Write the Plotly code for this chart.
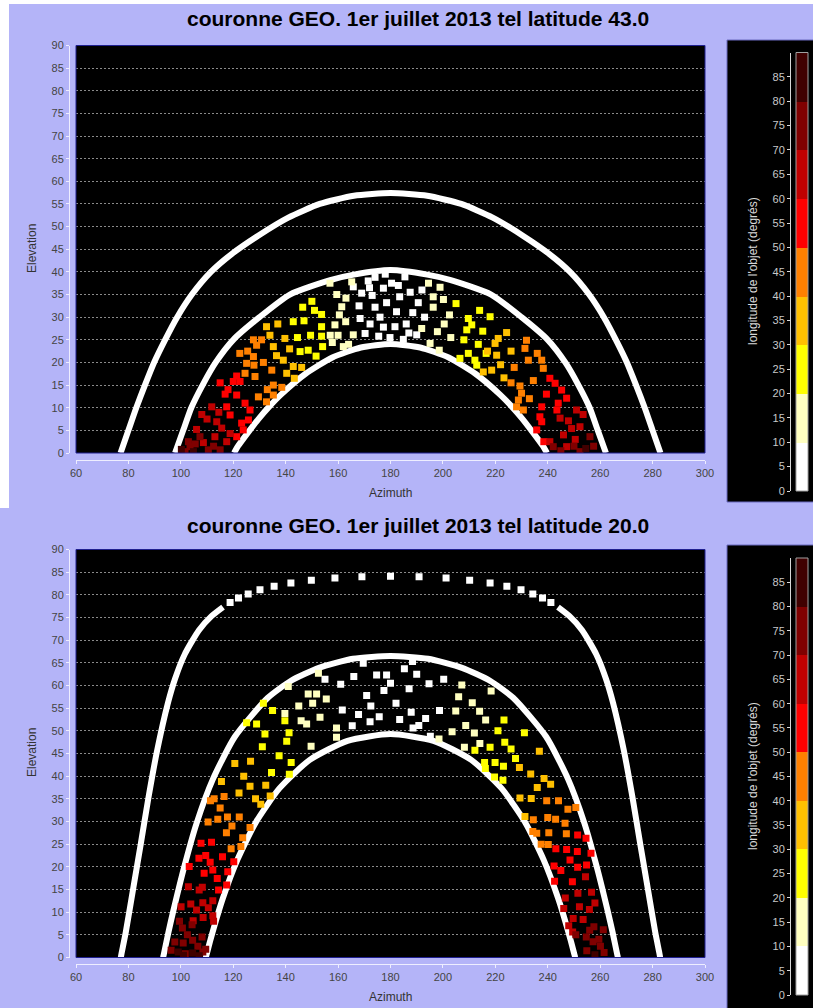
import plotly.graph_objects as go

W, H = 813, 1008
BG = '#b4b4f8'

# ---------------- data ----------------
az_ticks = list(range(60, 301, 20))
el_ticks = list(range(0, 91, 5))
lon_ticks = list(range(0, 86, 5))
lon_edges = [0, 10, 20, 30, 40, 50, 60, 70, 80, 90]
band_colors = ['#ffffff', '#ffffc0', '#ffff00', '#ffc000', '#ff8000',
               '#ff0000', '#c00000', '#800000', '#400000']

titles = ["couronne GEO. 1er juillet 2013 tel latitude 43.0",
          "couronne GEO. 1er juillet 2013 tel latitude 20.0"]

# --- latitude 43 : boundary curves (azimuth, elevation)
t_out_az = [77.0, 80.0, 83.0, 86.3, 89.8, 94.0, 98.6, 104.2, 111.5, 119.5, 129.5, 141.0, 153.0, 166.0,
            180.0, 194.0, 207.0, 219.0, 230.5, 240.5, 248.5, 255.8, 261.4, 266.0, 270.2, 273.7, 277.0,
            280.0, 283.0]
t_out_el = [0, 5, 10, 15, 20, 25, 30, 35, 40, 44, 48, 52, 55, 56.8,
            57.4, 56.8, 55, 52, 48, 44, 40, 35, 30, 25, 20, 15, 10,
            5, 0]
t_mid_az = [97.8, 100.9, 104.0, 108.3, 113.3, 120.0, 130.0, 141.6, 157.0, 166.0, 180.0,
            194.0, 203.0, 218.4, 230.0, 240.0, 246.7, 251.7, 256.0, 259.1, 262.2]
t_mid_el = [0, 5, 10, 15, 20, 25, 30, 35, 38.2, 39.4, 40.4,
            39.4, 38.2, 35, 30, 25, 20, 15, 10, 5, 0]
t_in_az = [120.3, 121.8, 125.6, 129.6, 133.8, 138.2, 147.6, 157.8, 168.7, 180.0,
           191.3, 202.2, 212.4, 221.8, 226.2, 230.4, 234.4, 238.2, 239.7]
t_in_el = [0, 1.5, 4.5, 7.5, 10.3, 12.9, 17.5, 21.1, 23.3, 24.1,
           23.3, 21.1, 17.5, 12.9, 10.3, 7.5, 4.5, 1.5, 0]

# --- latitude 20 : boundary curves
b_out_az = [77.1, 77.4, 79.0, 81.8, 84.7, 87.6, 90.9, 95.1, 97.8, 101.5, 106.9, 111.7, 116.1, None,
            243.9, 248.3, 253.1, 258.5, 262.2, 264.9, 269.1, 272.4, 275.3, 278.2, 281.0, 282.6, 282.9]
b_out_el = [0, 0.95, 5.6, 15.1, 25.0, 35.1, 45.5, 56.2, 61.5, 66.9, 72.2, 75.3, 77.3, None,
            77.3, 75.3, 72.2, 66.9, 61.5, 56.2, 45.5, 35.1, 25.0, 15.1, 5.6, 0.95, 0]
b_top_az = [118.8, 122.0, 125.7, 130.2, 135.6, 142.0, 149.8, 158.8, 169.1, 180.0,
            190.9, 201.2, 210.2, 218.0, 224.4, 229.8, 234.3, 238.0, 241.2]
b_top_el = [78.3, 79.3, 80.2, 81.1, 81.9, 82.6, 83.2, 83.7, 84.0, 84.1,
            84.0, 83.7, 83.2, 82.6, 81.9, 81.1, 80.2, 79.3, 78.3]
b_mid_az = [93.2, 93.5, 95.2, 97.1, 101.2, 106.0, 112.2, 120.6, 133.2, 141.9, 152.7, 165.7, 180.0,
            194.3, 207.3, 218.1, 226.8, 239.4, 247.8, 254.0, 258.8, 262.9, 264.8, 266.5, 266.8]
b_mid_el = [0, 0.7, 5.4, 10.2, 19.8, 29.6, 39.3, 48.7, 57.3, 61.0, 63.9, 65.9, 66.5,
            65.9, 63.9, 61.0, 57.3, 48.7, 39.3, 29.6, 19.8, 10.2, 5.4, 0.7, 0]
b_in_az = [109.5, 109.8, 111.4, 116.0, 121.6, 128.6, 137.6, 149.2, 163.6, 180.0,
           196.4, 210.8, 222.4, 231.4, 238.4, 244.0, 248.6, 250.2, 250.5]
b_in_el = [0, 0.6, 4.1, 13.0, 21.6, 29.8, 37.3, 43.6, 47.8, 49.3,
           47.8, 43.6, 37.3, 29.8, 21.6, 13.0, 4.1, 0.6, 0]

# --- objects, latitude 43 : (azimuth, elevation) grouped by longitude band
t_lon05 = [(174.1, 38.8), (180.4, 37.5), (185.5, 38.9), (177.3, 36.4), (169.0, 35.3), (178.5, 33.2),
           (174.1, 32.2), (182.3, 31.2), (190.6, 33.2), (168.4, 29.7), (172.2, 28.5), (177.3, 27.8),
           (181.7, 27.9), (170.3, 26.4), (190.0, 26.1), (165.8, 36.7), (179.8, 25.5), (184.9, 25.1),
           (187.5, 35.5), (193.0, 30.0), (186.0, 28.5), (175.5, 25.8), (171.5, 38.0), (183.5, 34.5),
           (188.5, 31.0), (173.0, 34.8), (176.0, 30.0), (183.0, 37.0), (192.0, 36.0), (168.0, 32.5),
           (187.0, 26.5), (172.0, 36.5), (178.0, 39.5)]
t_lon15 = [(161.4, 32.3), (163.0, 34.2), (158.8, 28.3), (162.9, 29.0), (157.8, 24.4), (162.0, 23.5),
           (156.9, 37.5), (198.9, 36.6), (200.2, 33.9), (196.3, 32.2), (191.9, 27.5), (197.9, 26.8),
           (195.1, 24.2), (198.6, 22.7), (165.8, 26.1), (165.2, 37.8), (196.3, 34.5), (159.5, 35.0),
           (202.5, 30.5), (160.0, 26.0), (160.5, 30.5), (157.0, 26.0), (200.5, 28.5), (203.0, 25.5),
           (194.5, 37.5), (164.0, 24.0)]
t_lon25 = [(146.5, 32.2), (142.9, 29.0), (147.0, 29.2), (153.7, 30.6), (153.7, 27.9), (153.7, 25.8),
           (145.5, 22.4), (148.6, 22.7), (151.6, 21.4), (154.1, 23.5), (209.7, 29.7), (211.0, 28.3),
           (209.1, 27.2), (215.2, 26.9), (218.0, 30.1), (209.7, 22.0), (212.2, 20.5), (212.9, 19.4),
           (206.5, 20.9), (150.0, 33.5), (205.0, 33.0), (213.5, 24.0), (149.5, 26.0), (144.5, 25.5),
           (151.0, 31.5), (214.0, 31.5), (208.0, 25.0), (216.5, 22.0)]
t_lon35 = [(139.7, 25.3), (135.3, 23.5), (139.1, 20.5), (142.9, 19.1), (146.1, 18.9), (140.4, 17.6),
           (143.3, 16.5), (132.7, 27.9), (221.1, 25.3), (219.9, 24.2), (220.5, 21.6), (218.6, 18.3),
           (223.3, 16.6), (215.4, 17.9), (224.3, 26.6), (137.0, 28.5), (217.0, 22.5), (136.5, 21.5),
           (141.5, 23.0), (222.0, 19.5), (226.0, 22.5), (134.0, 26.0)]
t_lon45 = [(130.8, 25.0), (128.9, 23.8), (127.7, 21.3), (127.9, 19.4), (128.3, 16.9), (125.1, 19.8),
           (124.5, 17.6), (135.3, 15.0), (138.5, 14.5), (129.6, 12.4), (132.7, 11.3), (135.3, 12.8),
           (134.7, 18.3), (127.7, 25.0), (231.9, 24.9), (231.3, 23.1), (232.6, 20.5), (237.7, 20.5),
           (238.3, 18.7), (227.2, 18.9), (229.4, 14.8), (230.0, 13.2), (228.8, 11.7), (230.7, 9.5),
           (228.1, 10.2), (122.5, 22.0), (234.5, 16.0), (125.5, 22.5), (131.5, 20.0), (133.0, 14.0),
           (236.0, 22.0), (233.0, 12.0), (226.0, 15.5)]
t_lon55 = [(121.3, 17.0), (122.6, 15.8), (120.0, 15.8), (116.9, 13.0), (121.3, 12.8), (118.8, 8.4),
           (123.2, 6.6), (125.8, 7.3), (126.4, 9.5), (123.8, 5.1), (121.3, 3.6), (117.5, 10.2),
           (240.8, 16.5), (242.8, 15.4), (245.3, 13.9), (247.2, 12.1), (237.7, 10.2), (237.0, 8.0),
           (237.7, 6.9), (235.8, 5.1), (115.0, 15.5), (243.5, 9.5), (118.0, 14.0), (124.5, 11.0),
           (239.5, 13.0), (244.0, 11.0), (238.5, 2.5)]
t_lon65 = [(111.8, 10.2), (113.7, 6.9), (106.0, 5.2), (108.6, 2.3), (118.8, 4.3), (117.5, 2.5),
           (113.0, 3.6), (115.6, 5.5), (244.7, 7.7), (247.9, 7.1), (249.1, 5.4), (252.3, 5.8),
           (247.2, 1.4), (240.8, 2.5), (250.5, 3.0), (110.0, 7.5), (253.5, 8.5), (108.0, 8.5),
           (114.5, 9.0), (251.0, 9.5), (246.0, 4.0)]
t_lon75 = [(102.9, 2.5), (103.5, 1.4), (101.6, 0.3), (110.5, 0.7), (115.0, 0.7), (107.3, 3.6),
           (242.1, 1.4), (252.3, 0.3), (256.1, 3.6), (245.0, 0.5), (112.5, 1.5), (105.5, 2.0),
           (250.0, 1.5), (257.5, 1.5)]
t_lon85 = [(104.8, 0.3), (100.2, 0.8), (254.5, 1.0)]

# --- objects, latitude 20
b_lon05 = [(155.0, 61.4), (161.0, 60.3), (174.7, 62.3), (178.5, 62.3), (170.9, 57.8), (177.5, 58.9),
           (161.6, 54.6), (167.8, 53.6), (175.7, 53.1), (172.2, 52.0), (165.4, 51.1), (169.6, 64.9),
           (182.1, 56.1), (185.3, 63.7), (187.1, 59.3), (187.9, 54.1), (188.6, 50.6), (194.7, 60.4),
           (193.4, 52.7), (200.3, 61.4), (198.7, 54.5), (188.4, 65.3), (195.2, 48.8), (190.8, 51.2),
           (180.0, 60.5), (183.5, 52.5), (172.5, 55.5), (166.0, 62.0), (190.0, 62.5)]
b_lon15 = [(152.5, 62.7), (148.6, 58.1), (151.8, 58.1), (150.3, 56.1), (153.1, 53.0), (148.0, 51.5),
           (159.4, 50.6), (141.0, 59.8), (159.4, 48.6), (145.9, 52.2), (149.7, 46.6), (139.7, 53.8),
           (207.2, 60.1), (204.9, 54.4), (203.5, 49.8), (211.2, 56.2), (208.7, 51.2), (218.4, 58.8),
           (208.2, 46.4), (216.3, 52.4), (214.1, 47.2), (198.5, 48.2), (214.0, 54.3), (155.5, 57.0),
           (206.0, 57.5), (145.0, 55.5), (212.0, 49.5)]
b_lon25 = [(128.9, 51.5), (139.7, 52.2), (141.3, 49.6), (132.1, 49.3), (131.5, 56.1), (125.1, 51.8),
           (140.4, 47.7), (142.1, 43.0), (131.1, 46.5), (134.6, 40.8), (141.4, 40.4), (223.3, 52.4),
           (218.0, 46.4), (215.9, 43.0), (223.6, 47.5), (219.9, 43.0), (231.1, 49.6), (223.1, 42.2),
           (227.7, 43.9), (222.9, 39.1), (212.2, 45.7), (216.2, 41.7), (219.7, 39.8), (135.0, 54.5),
           (137.5, 44.5), (226.0, 46.0), (221.0, 50.0)]
b_lon35 = [(126.6, 43.3), (132.4, 38.0), (120.6, 42.8), (126.4, 37.8), (130.5, 33.8), (122.2, 36.3),
           (115.5, 38.8), (134.1, 35.6), (229.2, 41.9), (236.8, 45.5), (233.5, 40.5), (229.4, 35.2),
           (238.6, 39.5), (233.7, 35.1), (231.3, 31.1), (241.1, 38.2), (124.0, 40.0), (236.0, 37.5),
           (128.5, 35.0)]
b_lon45 = [(116.5, 35.5), (122.3, 31.0), (112.7, 35.0), (117.8, 31.0), (123.6, 26.4), (114.1, 30.5),
           (117.4, 27.5), (110.4, 29.9), (119.2, 24.0), (126.4, 28.7), (111.3, 34.6), (122.9, 24.5),
           (239.6, 34.6), (234.5, 30.4), (244.1, 34.6), (240.0, 30.9), (235.8, 27.4), (247.7, 32.7),
           (240.4, 27.5), (246.6, 29.6), (240.2, 24.9), (247.1, 27.3), (234.3, 27.8), (250.7, 33.1),
           (119.5, 29.0), (243.0, 30.5), (237.5, 25.0), (115.0, 33.0)]
b_lon55 = [(111.7, 25.4), (115.9, 22.2), (107.7, 25.2), (117.9, 18.9), (111.2, 21.0), (106.9, 21.9),
           (113.9, 17.4), (108.9, 18.6), (114.4, 14.9), (120.2, 21.1), (112.2, 19.3), (103.2, 20.1),
           (243.1, 24.0), (251.4, 27.0), (247.2, 23.8), (242.4, 20.2), (251.3, 23.4), (245.0, 19.2),
           (242.6, 16.8), (251.4, 19.9), (254.8, 20.4), (249.4, 16.7), (254.6, 26.3), (109.5, 22.5),
           (117.5, 16.0), (248.5, 21.5), (256.5, 23.0)]
b_lon65 = [(108.2, 15.5), (112.2, 12.5), (102.9, 15.6), (108.4, 12.1), (112.2, 9.2), (103.8, 11.8),
           (108.5, 8.8), (100.1, 11.2), (104.7, 8.1), (107.0, 14.9), (112.5, 8.0), (254.4, 17.8),
           (246.7, 13.1), (251.5, 14.2), (246.1, 10.8), (256.7, 14.4), (252.1, 11.2), (249.7, 8.6),
           (255.9, 10.6), (253.5, 8.4), (249.5, 5.6), (106.0, 10.5), (110.5, 11.0), (258.0, 12.0),
           (248.0, 7.0)]
b_lon75 = [(104.3, 7.2), (108.1, 4.5), (100.6, 6.5), (104.5, 3.8), (108.4, 1.2), (100.9, 3.2),
           (97.7, 3.4), (101.7, 0.8), (96.3, 1.6), (99.5, 8.0), (109.5, 1.8), (250.7, 5.0),
           (257.6, 6.8), (254.7, 4.5), (261.2, 6.1), (257.3, 3.5), (254.9, 1.5), (260.1, 2.5),
           (261.5, 1.1), (102.5, 5.0), (106.5, 2.5), (256.0, 6.0), (259.5, 4.0)]
b_lon85 = [(101.0, 0.5), (104.5, 1.0), (107.0, 0.4), (99.0, 1.2), (258.0, 0.6)]

top_bands = [t_lon05, t_lon15, t_lon25, t_lon35, t_lon45, t_lon55, t_lon65, t_lon75, t_lon85]
bot_bands = [b_lon05, b_lon15, b_lon25, b_lon35, b_lon45, b_lon55, b_lon65, b_lon75, b_lon85]

# ---------------- figure ----------------
def px(x):
    return x / W


def py(y):
    return 1 - y / H


fig = go.Figure()

CURVE = dict(color='white', width=6, shape='spline', smoothing=0.6)

panels = [
    ('x', 'y', [(t_out_az, t_out_el), (t_mid_az, t_mid_el), (t_in_az, t_in_el)], None, top_bands),
    ('x2', 'y2', [(b_out_az, b_out_el), (b_mid_az, b_mid_el), (b_in_az, b_in_el)],
     (b_top_az, b_top_el), bot_bands),
]

for xa, ya, curves, dots, bands in panels:
    for caz, cel in curves:
        fig.add_trace(go.Scatter(x=caz, y=cel, mode='lines', line=CURVE, xaxis=xa, yaxis=ya,
                                 hoverinfo='skip', showlegend=False, connectgaps=False))
    if dots is not None:
        fig.add_trace(go.Scatter(x=dots[0], y=dots[1], mode='markers',
                                 marker=dict(symbol='square', size=7, color='white', line=dict(width=0)),
                                 xaxis=xa, yaxis=ya, hoverinfo='skip', showlegend=False))
    for i, pts in enumerate(bands):
        fig.add_trace(go.Scatter(x=[p[0] for p in pts], y=[p[1] for p in pts], mode='markers',
                                 marker=dict(symbol='square', size=7, color=band_colors[i],
                                             line=dict(width=0)),
                                 xaxis=xa, yaxis=ya, hoverinfo='skip', showlegend=False))

# colour-scale strips
for xa, ya in [('x3', 'y3'), ('x4', 'y4')]:
    fig.add_trace(go.Bar(x=[0] * 9, y=[lon_edges[i + 1] - lon_edges[i] for i in range(9)],
                         base=lon_edges[:9], marker=dict(color=band_colors, line=dict(width=0)),
                         width=1, xaxis=xa, yaxis=ya, hoverinfo='skip', showlegend=False))

TICKFONT = dict(family='Liberation Sans, Arial, sans-serif', size=11, color='#444444')
AXLINE = '#eeeeff'

def xaxis_cfg(dom, pos):
    return dict(domain=dom, range=[60, 300], anchor='free', position=pos, tickvals=az_ticks,
                showgrid=False, zeroline=False, showline=True, linecolor=AXLINE, linewidth=1,
                ticks='outside', ticklen=3, tickcolor=AXLINE, tickfont=TICKFONT, fixedrange=True)


def yaxis_cfg(dom):
    return dict(domain=dom, range=[0, 90], anchor='free', position=px(69), tickvals=el_ticks,
                showgrid=True, gridcolor='#8a8a8a', gridwidth=1, griddash='2px,2px',
                zeroline=False, showline=True, linecolor=AXLINE, linewidth=1,
                ticks='outside', ticklen=3, tickcolor=AXLINE, tickfont=TICKFONT, fixedrange=True)


def cbar_y(dom):
    return dict(domain=dom, range=[0, 90], anchor='free', position=px(790), side='left',
                tickvals=lon_ticks, showgrid=False, zeroline=False, showline=True,
                linecolor='#d8d8d8', ticks='outside', ticklen=3, tickcolor='#d8d8d8',
                tickfont=dict(family='Liberation Sans, Arial, sans-serif', size=11, color='#c8c8c8'),
                fixedrange=True)


def cbar_x(dom, anchor):
    return dict(domain=dom, range=[-0.5, 0.5], visible=False, anchor=anchor, fixedrange=True)


fig.update_layout(
    width=W, height=H, autosize=False,
    margin=dict(l=0, r=0, t=0, b=0, autoexpand=False),
    paper_bgcolor=BG, plot_bgcolor='black', showlegend=False, bargap=0,
    xaxis=xaxis_cfg([px(76), px(705)], py(460)),
    yaxis=yaxis_cfg([py(453), py(45.5)]),
    xaxis2=xaxis_cfg([px(76), px(705)], py(964)),
    yaxis2=yaxis_cfg([py(957.5), py(549.5)]),
    xaxis3=cbar_x([px(796), px(808)], 'y3'),
    yaxis3=cbar_y([py(491), py(52.5)]),
    xaxis4=cbar_x([px(796), px(808)], 'y4'),
    yaxis4=cbar_y([py(995), py(558)]),
)

shapes = [
    dict(type='rect', xref='paper', yref='paper', x0=0, x1=px(9), y0=py(508), y1=1,
         fillcolor='white', line=dict(width=0), layer='below'),
    dict(type='rect', xref='paper', yref='paper', x0=0, x1=1, y0=py(4), y1=1,
         fillcolor='white', line=dict(width=0), layer='below'),
    dict(type='rect', xref='paper', yref='paper', x0=px(727), x1=px(816), y0=py(502), y1=py(40),
         fillcolor='black', line=dict(color='#6a6ac0', width=1), layer='below'),
    dict(type='rect', xref='paper', yref='paper', x0=px(727), x1=px(816), y0=py(1012), y1=py(545),
         fillcolor='black', line=dict(color='#6a6ac0', width=1), layer='below'),
]
for xa, ya in [('x', 'y'), ('x2', 'y2')]:
    shapes.append(dict(type='rect', xref=xa + ' domain', yref=ya + ' domain', x0=0, x1=1, y0=0, y1=1,
                       line=dict(color='#202090', width=1), layer='above'))
for xa, ya in [('x3', 'y3'), ('x4', 'y4')]:
    shapes.append(dict(type='rect', xref=xa + ' domain', yref=ya + ' domain', x0=0, x1=1, y0=0, y1=1,
                       line=dict(color='#a0a0a0', width=1), layer='above'))
fig.update_layout(shapes=shapes)

TITLEFONT = dict(family='Liberation Sans Narrow, Arial Narrow, Liberation Sans, sans-serif',
                 size=21, color='black')
LABFONT = dict(family='Liberation Sans, Arial, sans-serif', size=12, color='#333333')
CBFONT = dict(family='Liberation Sans, Arial, sans-serif', size=12, color='#d8d8d8')

ann = []
for ttl, ty, cy, ay, ey, cby in [(titles[0], 18, 249, 493, 249, 271),
                                 (titles[1], 525, 753, 997, 753, 776)]:
    ann.append(dict(text='<b>' + ttl + '</b>', x=px(418), y=py(ty), xref='paper', yref='paper',
                    showarrow=False, font=TITLEFONT, xanchor='center', yanchor='middle'))
    ann.append(dict(text='Elevation', x=px(32), y=py(ey), xref='paper', yref='paper',
                    showarrow=False, font=LABFONT, textangle=-90, xanchor='center', yanchor='middle'))
    ann.append(dict(text='Azimuth', x=px(390), y=py(ay), xref='paper', yref='paper',
                    showarrow=False, font=LABFONT, xanchor='center', yanchor='middle'))
    ann.append(dict(text="longitude de l'objet (degrés)", x=px(753), y=py(cby), xref='paper',
                    yref='paper', showarrow=False, font=CBFONT, textangle=-90,
                    xanchor='center', yanchor='middle'))
fig.update_layout(annotations=ann)

PAGE_CSS = ("document.documentElement.style.margin='0px';"
            "document.documentElement.style.overflow='hidden';"
            "document.body.style.margin='0px';"
            "document.body.style.overflow='hidden';"
            "var gd=document.getElementsByClassName('plotly-graph-div')[0];"
            "gd.style.position='fixed';gd.style.left='0px';gd.style.top='0px';")

fig.write_html("out.html", config={'displayModeBar': False}, post_script=PAGE_CSS)
